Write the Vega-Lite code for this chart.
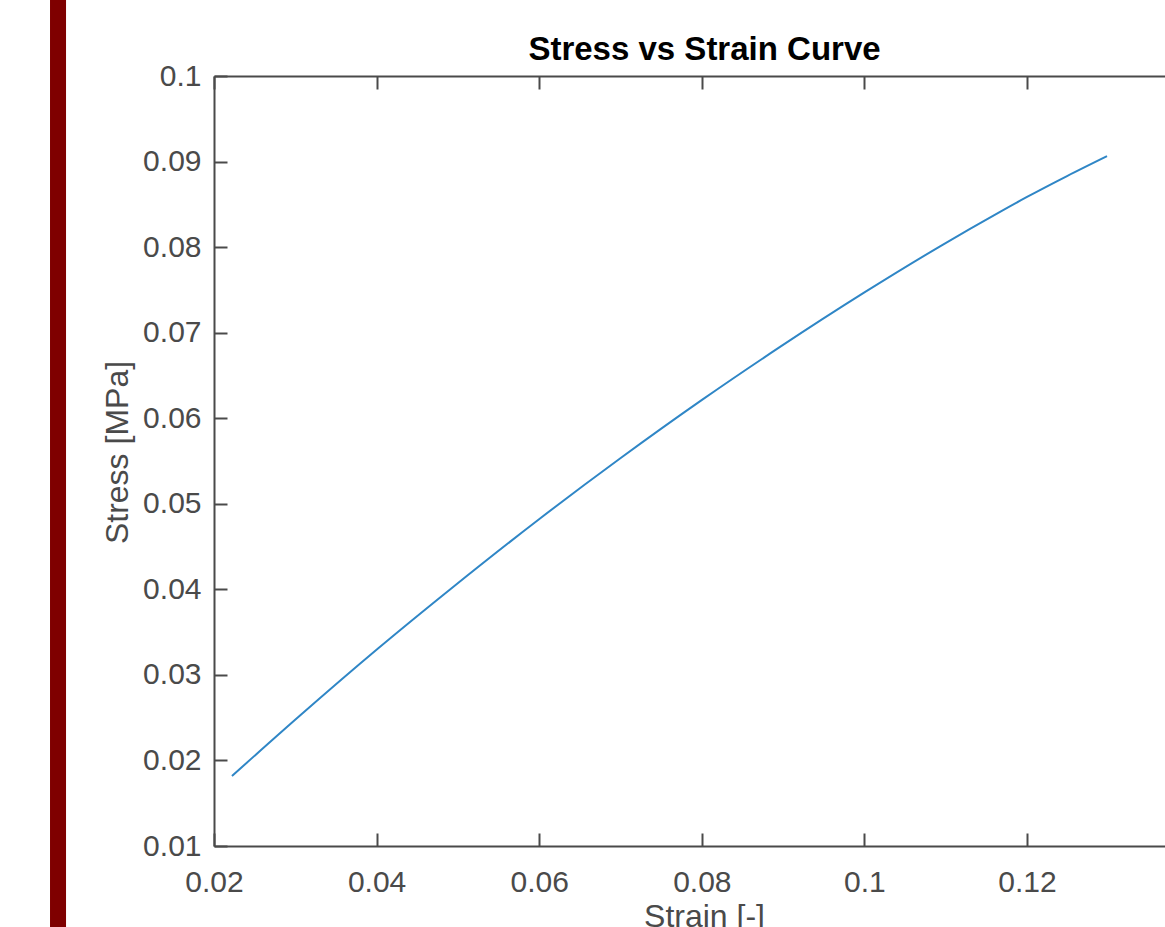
{
  "$schema": "https://vega.github.io/schema/vega-lite/v6.json",
  "width": 951,
  "height": 770,
  "autosize": {"type": "none"},
  "padding": {"left": 214, "top": 76, "right": 0, "bottom": 81},
  "background": "white",
  "config": {
    "view": {"stroke": null},
    "axis": {
      "grid": false,
      "domainColor": "#4a4a4a",
      "domainWidth": 2,
      "tickColor": "#4a4a4a",
      "tickWidth": 2,
      "tickSize": -13,
      "labelFont": "Liberation Sans",
      "labelFontSize": 30,
      "labelColor": "#4a4a4a",
      "labelFlush": false,
      "labelOverlap": false,
      "titleFont": "Liberation Sans",
      "titleFontSize": 32,
      "titleFontWeight": "normal",
      "titleColor": "#4a4a4a"
    }
  },
  "datasets": {
    "curve": [
      {"strain": 0.02221, "stress": 0.01818},
      {"strain": 0.03058, "stress": 0.02525},
      {"strain": 0.04017, "stress": 0.03308},
      {"strain": 0.04903, "stress": 0.03998},
      {"strain": 0.06010, "stress": 0.04828},
      {"strain": 0.06994, "stress": 0.05529},
      {"strain": 0.08002, "stress": 0.06214},
      {"strain": 0.08962, "stress": 0.06833},
      {"strain": 0.09995, "stress": 0.07467},
      {"strain": 0.10930, "stress": 0.08009},
      {"strain": 0.11668, "stress": 0.08412},
      {"strain": 0.12000, "stress": 0.08586},
      {"strain": 0.12492, "stress": 0.08830},
      {"strain": 0.12984, "stress": 0.09063}
    ],
    "border": [
      {"left": -0.00017, "right": 0.0018, "bottom": 0.0, "top": 0.12}
    ]
  },
  "layer": [
    {
      "data": {"name": "curve"},
      "mark": {"type": "line", "color": "#2f86c6", "strokeWidth": 2, "interpolate": "monotone"},
      "encoding": {
        "x": {
          "field": "strain",
          "type": "quantitative",
          "scale": {"domain": [0.02, 0.13697], "nice": false, "zero": false},
          "axis": {
            "orient": "bottom",
            "values": [0.02, 0.04, 0.06, 0.08, 0.1, 0.12],
            "format": ".2~f",
            "labelPadding": 34,
            "title": "Strain [-]",
            "titleX": 490,
            "titleY": 80,
            "titleAlign": "center",
            "titleBaseline": "alphabetic"
          }
        },
        "y": {
          "field": "stress",
          "type": "quantitative",
          "scale": {"domain": [0.01, 0.1], "nice": false, "zero": false},
          "axis": {
            "orient": "left",
            "values": [0.01, 0.02, 0.03, 0.04, 0.05, 0.06, 0.07, 0.08, 0.09, 0.1],
            "format": ".2~f",
            "labelPadding": 26,
            "title": "Stress [MPa]",
            "titleX": -87,
            "titleY": 376,
            "titleAngle": -90,
            "titleAlign": "center",
            "titleBaseline": "alphabetic"
          }
        }
      }
    },
    {
      "data": {"name": "border"},
      "mark": {"type": "rect", "color": "#7f0000", "clip": false},
      "encoding": {
        "x": {
          "field": "left",
          "type": "quantitative",
          "scale": {"domain": [0.02, 0.13697], "nice": false, "zero": false},
          "axis": {
            "orient": "top",
            "labels": false,
            "values": [0.02, 0.04, 0.06, 0.08, 0.1, 0.12],
            "title": "Stress vs Strain Curve",
            "titleFontWeight": "bold",
            "titleColor": "#000000",
            "titleFontSize": 33,
            "titleX": 490,
            "titleY": -17,
            "titleAlign": "center",
            "titleBaseline": "alphabetic"
          }
        },
        "x2": {"field": "right"},
        "y": {
          "field": "bottom",
          "type": "quantitative",
          "scale": {"domain": [0.01, 0.1], "nice": false, "zero": false},
          "axis": {
            "orient": "left",
            "values": [0.01, 0.02, 0.03, 0.04, 0.05, 0.06, 0.07, 0.08, 0.09, 0.1],
            "format": ".2~f",
            "labelPadding": 26,
            "title": "Stress [MPa]",
            "titleX": -87,
            "titleY": 376,
            "titleAngle": -90,
            "titleAlign": "center",
            "titleBaseline": "alphabetic"
          }
        },
        "y2": {"field": "top"}
      }
    }
  ],
  "resolve": {"axis": {"x": "independent"}}
}
